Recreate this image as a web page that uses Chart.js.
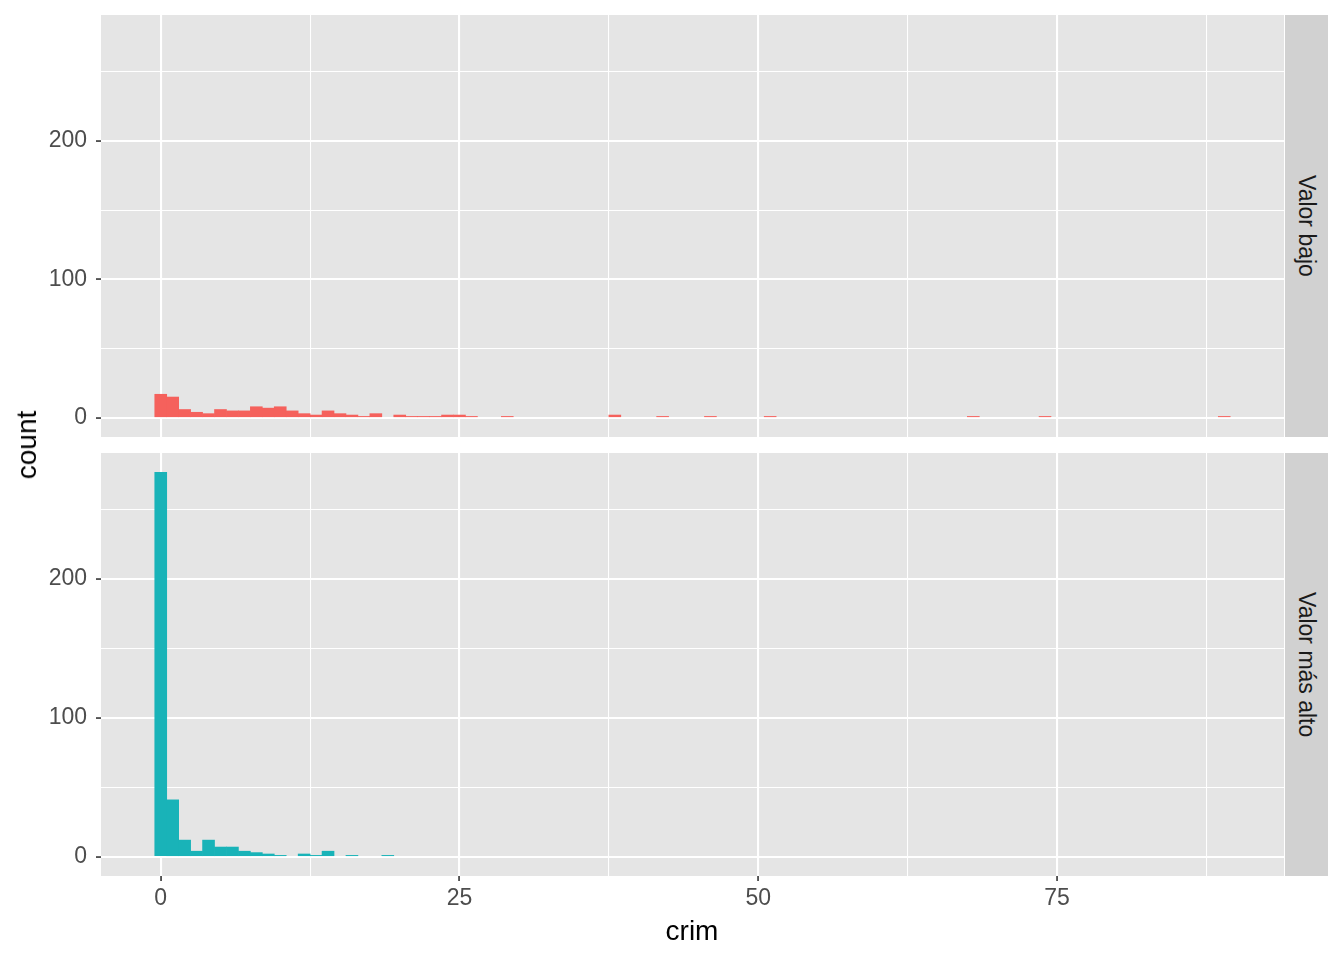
<!DOCTYPE html>
<html><head><meta charset="utf-8">
<script src="https://cdn.jsdelivr.net/npm/chart.js@4.4.0/dist/chart.umd.min.js"></script>
<style>
html,body{margin:0;padding:0;background:#fff;}
#wrap{position:relative;width:1344px;height:960px;overflow:hidden;font-family:"Liberation Sans",Arial,sans-serif;}
canvas{position:absolute;left:0;top:0;}
.strip{position:absolute;left:1285px;width:43px;background:#D1D1D1;display:flex;align-items:center;justify-content:center;}
.strip span{writing-mode:vertical-rl;font-size:23px;color:#1A1A1A;white-space:nowrap;}
.ytitle{position:absolute;left:27px;top:445px;transform:translate(-50%,-50%) rotate(-90deg);font-size:28px;color:#000;white-space:nowrap;}
.xtitle{position:absolute;left:692px;top:931px;transform:translate(-50%,-50%);font-size:28px;color:#000;white-space:nowrap;}
</style></head>
<body><div id="wrap">
<canvas id="c1" width="1344" height="960"></canvas>
<canvas id="c2" width="1344" height="960"></canvas>
<div class="strip" style="top:15px;height:422px;"><span id="s1"></span></div>
<div class="strip" style="top:453px;height:423px;"><span id="s2"></span></div>
<div class="ytitle">count</div>
<div class="xtitle">crim</div>
</div>
<script>
// Histogram bins (bin centre, width 1) and counts
const lowBins    = [0,1,2,3,4,5,6,7,8,9,10,11,12,13,14,15,16,17,18,20,21,22,23,24,25,26,29,38,42,46,51,68,74,89];
const lowCounts  = [17,15,6,4,3,6,5,5,8,7,8,5,3,2,5,3,2,1,3,2,1,1,1,2,2,1,1,2,1,1,1,1,1,1];
const highBins   = [0,1,2,3,4,5,6,7,8,9,10,12,13,14,16,19];
const highCounts = [277,41,12,4,12,7,7,4,3,2,1,2,1,4,1,1];
const xTickLabels = [0,25,50,75];
const yTickLabels = [0,100,200];
const panelLabels = ["Valor bajo","Valor más alto"];

document.getElementById('s1').textContent = panelLabels[0];
document.getElementById('s2').textContent = panelLabels[1];

const FONT = '"Liberation Sans", Arial, sans-serif';
const xMin = -5, xMax = 94, yMin = -13.85, yMax = 290.85;

const bgPlugin = {
  id:'panelBg',
  beforeDraw(chart){
    const a = chart.chartArea, ctx = chart.ctx;
    ctx.save(); ctx.fillStyle = '#E5E5E5';
    ctx.fillRect(a.left, a.top, a.right - a.left, a.bottom - a.top);
    ctx.restore();
  }
};

const isMajX = v => xTickLabels.includes(v);
const isMajY = v => yTickLabels.includes(v);

function makeChart(id, bins, counts, color, top, showX){
  const data = bins.map((b,i)=>({x:b, y:counts[i]}));
  return new Chart(document.getElementById(id), {
    type:'bar',
    data:{datasets:[{data, backgroundColor:color, borderWidth:0, barPercentage:1, categoryPercentage:1}]},
    options:{
      responsive:false, animation:false,
      layout:{padding:{top:top, right:60, left:0, bottom: showX ? 960-876-40 : 960-437}},
      plugins:{legend:{display:false}, tooltip:{enabled:false}},
      scales:{
        x:{
          type:'linear', min:xMin, max:xMax, offset:false,
          afterFit: s => { s.height = showX ? 40 : 0; s.paddingLeft = 0; s.paddingRight = 0; },
          border:{display:false},
          grid:{color:'#FFFFFF', offset:false, drawTicks:showX, tickLength:5,
                lineWidth: c => isMajX(c.tick.value) ? 2.1 : 1.05,
                tickColor: c => isMajX(c.tick.value) ? '#333333' : 'rgba(0,0,0,0)',
                tickWidth: c => isMajX(c.tick.value) ? 1.6 : 0},
          ticks:{display:showX, stepSize:12.5, includeBounds:false, autoSkip:false, maxRotation:0,
                 padding:4, color:'#4D4D4D', font:{family:FONT, size:23},
                 callback: v => isMajX(v) ? String(v) : ''}
        },
        y:{
          min:yMin, max:yMax,
          afterFit: s => { s.width = 101; s.paddingTop = 0; s.paddingBottom = 0; },
          border:{display:false},
          grid:{color:'#FFFFFF', tickLength:5,
                lineWidth: c => isMajY(c.tick.value) ? 2.1 : 1.05,
                tickColor: c => isMajY(c.tick.value) ? '#333333' : 'rgba(0,0,0,0)',
                tickWidth: c => isMajY(c.tick.value) ? 1.6 : 0},
          ticks:{stepSize:50, includeBounds:false, autoSkip:false, padding:9,
                 color:'#4D4D4D', font:{family:FONT, size:23},
                 callback: v => isMajY(v) ? String(v) : ''}
        }
      }
    },
    plugins:[bgPlugin]
  });
}

makeChart('c1', lowBins, lowCounts, '#F5615C', 15, false);
makeChart('c2', highBins, highCounts, '#19B3B8', 453, true);
</script>
</body></html>
